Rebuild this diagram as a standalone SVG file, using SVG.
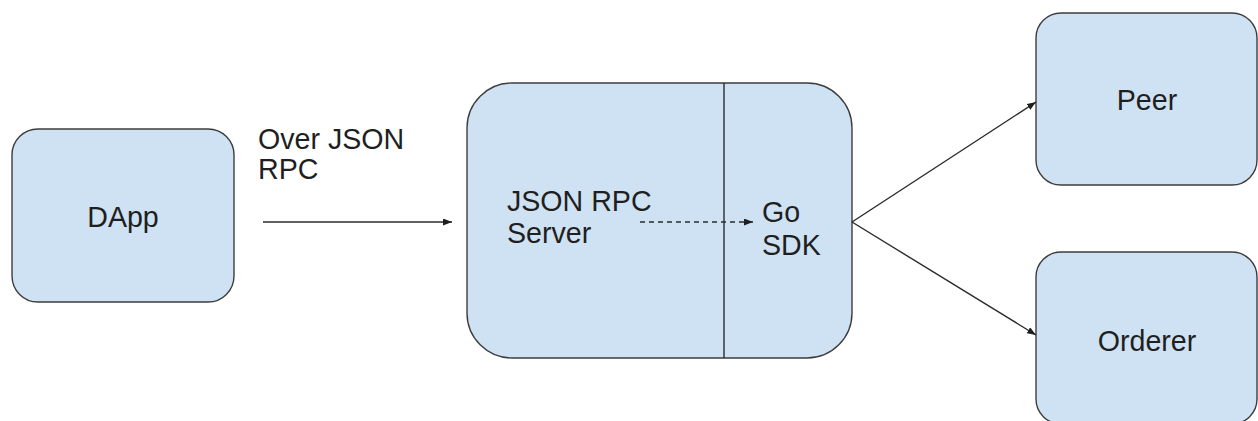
<svg xmlns="http://www.w3.org/2000/svg" width="1258" height="421" viewBox="0 0 1258 421">
<style>
.box{fill:#cfe2f3;stroke:#3d3d3d;stroke-width:1.4}
.t{font-family:"Liberation Sans",Arial,sans-serif;font-size:28.6px;fill:#1f1f1f}
.c{stroke:#2b2b2b;stroke-width:1.4;fill:none}
</style>
<defs>
<marker id="ah" markerWidth="9" markerHeight="7" refX="9" refY="3.5" orient="auto" markerUnits="userSpaceOnUse">
<path d="M0,0 L9,3.5 L0,7 Z" fill="#1f1f1f"/>
</marker>
</defs>
<rect width="1258" height="421" fill="#ffffff"/>
<g id="dapp">
<rect class="box" x="12" y="129" width="222" height="173" rx="26"/>
<text class="t" x="123" y="227" text-anchor="middle">DApp</text>
</g>
<g id="server">
<rect class="box" x="467" y="83" width="385" height="275" rx="45"/>
<line x1="724" y1="83" x2="724" y2="358" stroke="#2b2b2b" stroke-width="1.4"/>
<text class="t" x="507" y="211">JSON RPC</text>
<text class="t" x="507" y="243">Server</text>
</g>
<g id="gosdk">
<text class="t" x="762" y="222">Go</text>
<text class="t" x="762" y="255">SDK</text>
</g>
<g id="peer">
<rect class="box" x="1036" y="13" width="221" height="172" rx="25"/>
<text class="t" x="1147" y="110" text-anchor="middle">Peer</text>
</g>
<g id="orderer">
<rect class="box" x="1036" y="252" width="221" height="172" rx="25"/>
<text class="t" x="1147" y="351" text-anchor="middle">Orderer</text>
</g>
<g id="label">
<text class="t" x="258" y="149">Over JSON</text>
<text class="t" x="258" y="179">RPC</text>
</g>
<g id="connectors">
<line class="c" x1="263" y1="222" x2="452" y2="222" marker-end="url(#ah)"/>
<line class="c" x1="640" y1="222" x2="753" y2="222" stroke-dasharray="5,4" marker-end="url(#ah)"/>
<line class="c" x1="852" y1="222" x2="1036" y2="102" marker-end="url(#ah)"/>
<line class="c" x1="852" y1="222" x2="1036" y2="335" marker-end="url(#ah)"/>
</g>
</svg>
